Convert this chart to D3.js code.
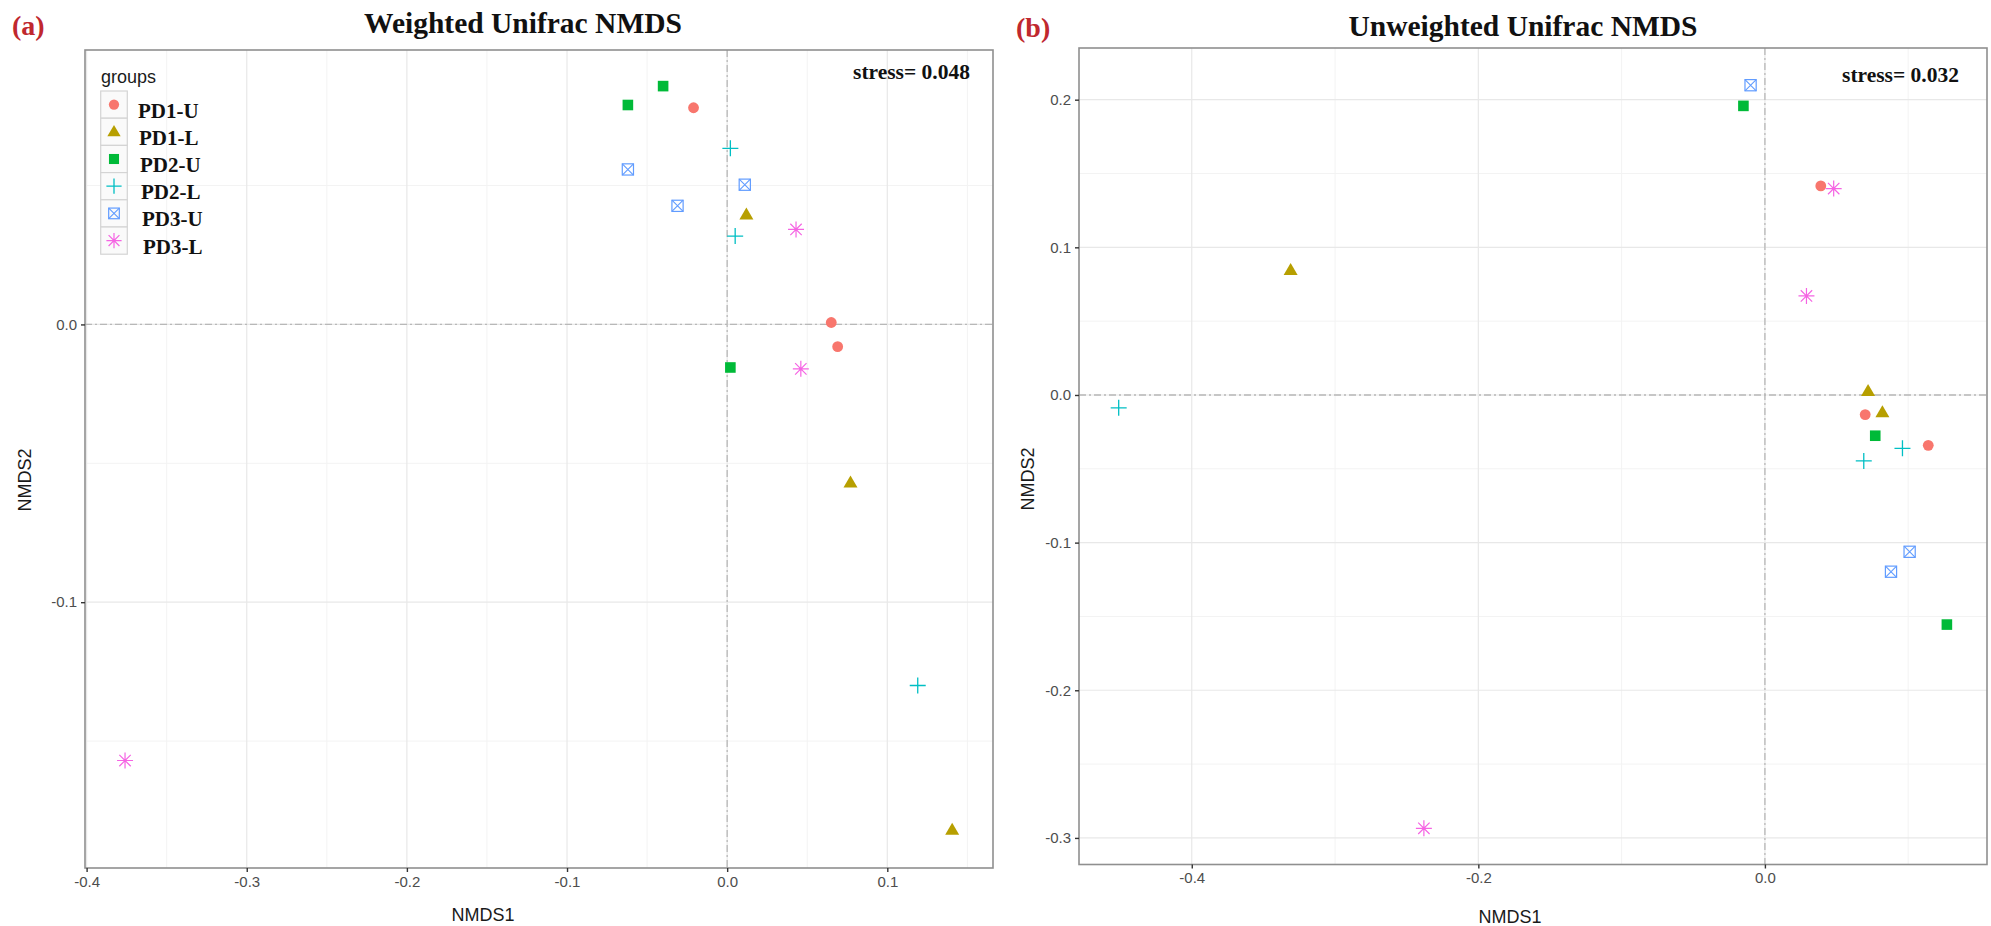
<!DOCTYPE html>
<html>
<head>
<meta charset="utf-8">
<script src="https://cdn.jsdelivr.net/npm/d3@7/dist/d3.min.js"></script>
<style>
  html, body { margin: 0; padding: 0; background: #ffffff; }
  svg { display: block; }
  .tick text { font-family: "Liberation Sans", Arial, sans-serif; }
</style>
</head>
<body>
<svg id="chart" width="1991" height="926"></svg>
<script>
// ---------------- data ----------------
const groups = ["PD1-U", "PD1-L", "PD2-U", "PD2-L", "PD3-U", "PD3-L"];
const groupColors = ["#F8766D", "#B79F00", "#00BA38", "#00BFC4", "#619CFF", "#F564E3"];
const groupShapes = ["circle", "triangle", "square", "plus", "boxx", "asterisk"];

// (a) Weighted Unifrac NMDS
const weightedGroup = ["PD1-U","PD1-U","PD1-U","PD1-L","PD1-L","PD1-L","PD2-U","PD2-U","PD2-U",
                       "PD2-L","PD2-L","PD2-L","PD3-U","PD3-U","PD3-U","PD3-L","PD3-L","PD3-L"];
const weightedNMDS1 = [-0.021, 0.065, 0.069, 0.012, 0.077, 0.1405, -0.040, -0.062, 0.002,
                       0.002, 0.005, 0.119, -0.062, 0.011, -0.031, 0.043, 0.046, -0.376];
const weightedNMDS2 = [0.078, 0.0007, -0.008, 0.0395, -0.057, -0.182, 0.0858, 0.079, -0.0155,
                       0.0634, 0.0318, -0.130, 0.0558, 0.0503, 0.0427, 0.0342, -0.016, -0.157];
const weightedStress = "stress= 0.048";

// (b) Unweighted Unifrac NMDS
const unweightedGroup = ["PD1-U","PD1-U","PD1-U","PD1-L","PD1-L","PD1-L","PD2-U","PD2-U","PD2-U",
                         "PD2-L","PD2-L","PD2-L","PD3-U","PD3-U","PD3-U","PD3-L","PD3-L","PD3-L"];
const unweightedNMDS1 = [0.039, 0.070, 0.114, -0.331, 0.072, 0.082, -0.015, 0.077, 0.127,
                         -0.451, 0.096, 0.069, -0.010, 0.101, 0.088, 0.048, 0.029, -0.238];
const unweightedNMDS2 = [0.1416, -0.0133, -0.0341, 0.0845, 0.0025, -0.0118, 0.1958, -0.0276, -0.1555,
                         -0.0087, -0.0361, -0.0447, 0.2098, -0.1062, -0.1197, 0.1398, 0.0671, -0.2935];
const unweightedStress = "stress= 0.032";

// axis domains and ticks
const xDomainA = [-0.401, 0.166], yDomainA = [-0.1957, 0.0988];
const xTicksA = [-0.4, -0.3, -0.2, -0.1, 0.0, 0.1];
const xMinorA = [-0.35, -0.25, -0.15, -0.05, 0.05, 0.15];
const yTicksA = [-0.1, 0.0];
const yMinorA = [-0.15, -0.05, 0.05];

const xDomainB = [-0.4787, 0.155], yDomainB = [-0.318, 0.235];
const xTicksB = [-0.4, -0.2, 0.0];
const xMinorB = [-0.3, -0.1, 0.1];
const yTicksB = [-0.3, -0.2, -0.1, 0.0, 0.1, 0.2];
const yMinorB = [-0.25, -0.15, -0.05, 0.05, 0.15];

// ---------------- drawing ----------------
const svg = d3.select("#chart");
const fmt = d => d3.format(".1f")(d).replace("\u2212", "-");
const serif = "'Liberation Serif', 'Times New Roman', serif";
const sans = "'Liberation Sans', Arial, sans-serif";

function drawSymbol(g, shape, color, cx, cy, k) {
  k = k || 1;
  const s = g.append("g").attr("transform", `translate(${cx},${cy})`);
  if (shape === "circle") {
    s.append("circle").attr("r", 5.4 * k).attr("fill", color);
  } else if (shape === "triangle") {
    const w = 7 * k, h = 12 * k;
    s.append("path").attr("d", `M0,${-h * 0.6}L${w},${h * 0.4}L${-w},${h * 0.4}Z`).attr("fill", color);
  } else if (shape === "square") {
    const a = 5.3 * k;
    s.append("rect").attr("x", -a).attr("y", -a).attr("width", 2 * a).attr("height", 2 * a).attr("fill", color);
  } else if (shape === "plus") {
    const a = 8 * k;
    s.append("path").attr("d", `M${-a},0H${a}M0,${-a}V${a}`).attr("stroke", color)
      .attr("stroke-width", 1.3).attr("fill", "none");
  } else if (shape === "boxx") {
    const a = 5.6 * k;
    s.append("rect").attr("x", -a).attr("y", -a).attr("width", 2 * a).attr("height", 2 * a)
      .attr("fill", "none").attr("stroke", color).attr("stroke-width", 1.2);
    s.append("path").attr("d", `M${-a},${-a}L${a},${a}M${a},${-a}L${-a},${a}`)
      .attr("stroke", color).attr("stroke-width", 1.1).attr("fill", "none");
  } else if (shape === "asterisk") {
    const a = 8 * k, d = 5.7 * k;
    s.append("path").attr("d", `M${-a},0H${a}M0,${-a}V${a}M${-d},${-d}L${d},${d}M${d},${-d}L${-d},${d}`)
      .attr("stroke", color).attr("stroke-width", 1.2).attr("fill", "none");
  }
}

function panel(cfg) {
  const x = d3.scaleLinear().domain(cfg.xDomain).range([cfg.left, cfg.right]);
  const y = d3.scaleLinear().domain(cfg.yDomain).range([cfg.bottom, cfg.top]);
  const g = svg.append("g");

  g.append("rect").attr("x", cfg.left).attr("y", cfg.top)
    .attr("width", cfg.right - cfg.left).attr("height", cfg.bottom - cfg.top).attr("fill", "#ffffff");

  // minor grid
  g.selectAll(null).data(cfg.xMinor).enter().append("line")
    .attr("x1", d => x(d)).attr("x2", d => x(d)).attr("y1", cfg.top).attr("y2", cfg.bottom)
    .attr("stroke", "#f3f3f3").attr("stroke-width", 1);
  g.selectAll(null).data(cfg.yMinor).enter().append("line")
    .attr("y1", d => y(d)).attr("y2", d => y(d)).attr("x1", cfg.left).attr("x2", cfg.right)
    .attr("stroke", "#f3f3f3").attr("stroke-width", 1);
  // major grid
  g.selectAll(null).data(cfg.xTicks).enter().append("line")
    .attr("x1", d => x(d)).attr("x2", d => x(d)).attr("y1", cfg.top).attr("y2", cfg.bottom)
    .attr("stroke", "#e8e8e8").attr("stroke-width", 1.2);
  g.selectAll(null).data(cfg.yTicks).enter().append("line")
    .attr("y1", d => y(d)).attr("y2", d => y(d)).attr("x1", cfg.left).attr("x2", cfg.right)
    .attr("stroke", "#e8e8e8").attr("stroke-width", 1.2);

  // zero reference lines (dash-dot)
  g.append("line").attr("x1", x(0)).attr("x2", x(0)).attr("y1", cfg.top).attr("y2", cfg.bottom)
    .attr("stroke", "#b8b8b8").attr("stroke-width", 1.3).attr("stroke-dasharray", "7,3,2,3");
  g.append("line").attr("y1", y(0)).attr("y2", y(0)).attr("x1", cfg.left).attr("x2", cfg.right)
    .attr("stroke", "#b8b8b8").attr("stroke-width", 1.3).attr("stroke-dasharray", "7,3,2,3");

  // frame
  g.append("rect").attr("x", cfg.left).attr("y", cfg.top)
    .attr("width", cfg.right - cfg.left).attr("height", cfg.bottom - cfg.top)
    .attr("fill", "none").attr("stroke", "#8f8f8f").attr("stroke-width", 1.6);

  // axes
  const xa = g.append("g").attr("transform", `translate(0,${cfg.bottom})`)
    .call(d3.axisBottom(x).tickValues(cfg.xTicks).tickFormat(fmt).tickSize(4).tickPadding(4));
  const ya = g.append("g").attr("transform", `translate(${cfg.left},0)`)
    .call(d3.axisLeft(y).tickValues(cfg.yTicks).tickFormat(fmt).tickSize(4).tickPadding(4));
  [xa, ya].forEach(a => {
    a.select(".domain").remove();
    a.selectAll(".tick line").attr("stroke", "#333333").attr("stroke-width", 1.4);
    a.selectAll(".tick text").attr("fill", "#4d4d4d").style("font-size", "15px").style("font-family", sans);
  });

  // points
  const pts = g.append("g");
  cfg.nmds1.forEach((v, i) => {
    const gi = groups.indexOf(cfg.group[i]);
    drawSymbol(pts, groupShapes[gi], groupColors[gi], x(v), y(cfg.nmds2[i]), 1);
  });

  // axis titles
  g.append("text").attr("x", cfg.xTitleX).attr("y", cfg.xTitleY).attr("text-anchor", "middle")
    .style("font-family", sans).style("font-size", "18px").attr("fill", "#1a1a1a").text("NMDS1");
  g.append("text").attr("transform", `translate(${cfg.yTitleX},${cfg.yTitleY}) rotate(-90)`)
    .attr("text-anchor", "middle").style("font-family", sans).style("font-size", "18px")
    .attr("fill", "#1a1a1a").text("NMDS2");

  // title and panel letter
  g.append("text").attr("x", cfg.titleX).attr("y", cfg.titleY).attr("text-anchor", "middle")
    .style("font-family", serif).style("font-weight", "bold").style("font-size", "29.5px")
    .attr("fill", "#111").text(cfg.title);
  g.append("text").attr("x", cfg.letterX).attr("y", cfg.letterY)
    .style("font-family", serif).style("font-weight", "bold").style("font-size", "28px")
    .attr("fill", "#c0282e").text(cfg.letter);

  // stress
  g.append("text").attr("x", cfg.stressX).attr("y", cfg.stressY).attr("text-anchor", "end")
    .style("font-family", serif).style("font-weight", "bold").style("font-size", "21.5px")
    .attr("fill", "#111").text(cfg.stress);

  return { x, y, g };
}

panel({
  left: 85, right: 993, top: 50, bottom: 868,
  xDomain: xDomainA, yDomain: yDomainA,
  xTicks: xTicksA, xMinor: xMinorA, yTicks: yTicksA, yMinor: yMinorA,
  group: weightedGroup, nmds1: weightedNMDS1, nmds2: weightedNMDS2,
  xTitleX: 483, xTitleY: 921, yTitleX: 31, yTitleY: 480,
  title: "Weighted Unifrac NMDS", titleX: 523, titleY: 33,
  letter: "(a)", letterX: 12, letterY: 35,
  stress: weightedStress, stressX: 970, stressY: 79
});

panel({
  left: 1079, right: 1987, top: 48, bottom: 864.5,
  xDomain: xDomainB, yDomain: yDomainB,
  xTicks: xTicksB, xMinor: xMinorB, yTicks: yTicksB, yMinor: yMinorB,
  group: unweightedGroup, nmds1: unweightedNMDS1, nmds2: unweightedNMDS2,
  xTitleX: 1510, xTitleY: 923, yTitleX: 1034, yTitleY: 479,
  title: "Unweighted Unifrac NMDS", titleX: 1523, titleY: 36,
  letter: "(b)", letterX: 1016, letterY: 37,
  stress: unweightedStress, stressX: 1959, stressY: 82
});

// legend (panel a)
const leg = svg.append("g");
leg.append("text").attr("x", 101).attr("y", 83).style("font-family", sans).style("font-size", "18px")
  .attr("fill", "#1a1a1a").text("groups");
const keyH = 27.2, keyTop = 91, keyLeft = 100.7, keyW = 26.6;
groups.forEach((name, i) => {
  const ky = keyTop + i * keyH;
  leg.append("rect").attr("x", keyLeft).attr("y", ky).attr("width", keyW).attr("height", keyH)
    .attr("fill", "#fafafa").attr("stroke", "#d4d4d4").attr("stroke-width", 1.2);
  drawSymbol(leg, groupShapes[i], groupColors[i], keyLeft + keyW / 2, ky + keyH / 2, 0.95);
  leg.append("text").attr("x", 138 + i * 1).attr("y", ky + keyH / 2 + 13)
    .style("font-family", serif).style("font-weight", "bold").style("font-size", "21px")
    .attr("fill", "#111").text(name);
});
</script>
</body>
</html>
